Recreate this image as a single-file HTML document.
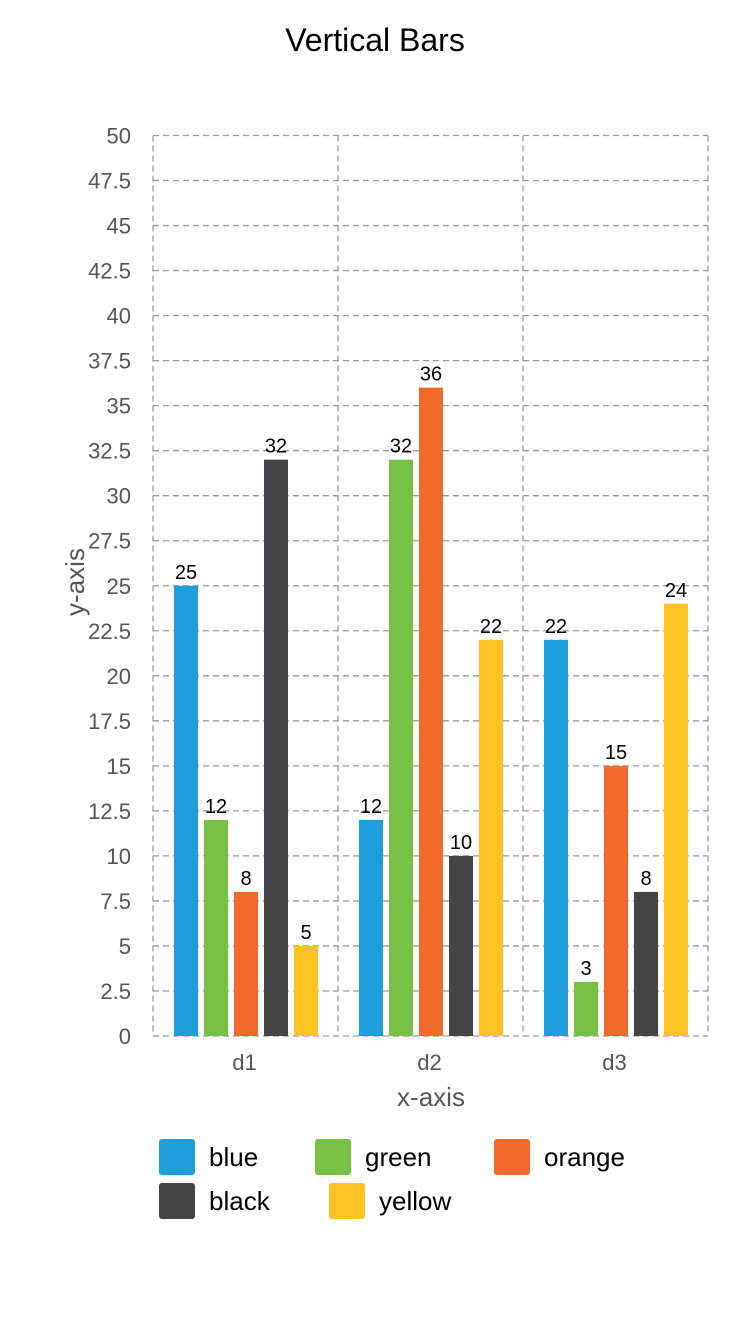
<!DOCTYPE html>
<html><head><meta charset="utf-8"><style>
body{margin:0;background:#fff;font-family:"Liberation Sans",Arial,sans-serif;}
</style></head><body>
<svg width="750" height="1334" xmlns="http://www.w3.org/2000/svg" id="chart">
<text x="375" y="51" text-anchor="middle" font-size="32" fill="#000">Vertical Bars</text>
<g id="grid"></g><g id="bars"></g>
<text x="431" y="1106" text-anchor="middle" font-size="26" fill="#555">x-axis</text>
<text transform="translate(84,582) rotate(-90)" text-anchor="middle" font-size="26" fill="#555">y-axis</text>
<g id="legend"></g>
</svg>
<script>
const categories=["d1","d2","d3"];
const seriesNames=["blue","green","orange","black","yellow"];
const seriesColors=["#1e9fdb","#78c043","#f26a2a","#444446","#fdc325"];
const blueVals=[25,12,22];
const greenVals=[12,32,3];
const orangeVals=[8,36,15];
const blackVals=[32,10,8];
const yellowVals=[5,22,24];
const yTicks=[0,2.5,5,7.5,10,12.5,15,17.5,20,22.5,25,27.5,30,32.5,35,37.5,40,42.5,45,47.5,50];
const allVals=[blueVals,greenVals,orangeVals,blackVals,yellowVals];
const NS="http://www.w3.org/2000/svg";
const L=153,B=1036,T=135.5,CW=185,yMax=50;
const y=v=>B-(v/yMax)*(B-T);
const xc=i=>L+i*CW;
function mk(tag,at,parent){const e=document.createElementNS(NS,tag);for(const k in at)e.setAttribute(k,at[k]);parent.appendChild(e);return e;}
const grid=document.getElementById('grid');
yTicks.forEach(t=>{
 const ln=mk('line',{x1:L,x2:L+CW*categories.length,y1:y(t),y2:y(t),stroke:'#999','stroke-width':1.3,'stroke-dasharray':'6,4'},grid);
 
 
 const tx=mk('text',{x:131,y:y(t)+8,'text-anchor':'end','font-size':22,fill:'#555'},grid);
 tx.textContent=t;
 
 
});
for(let i=0;i<=categories.length;i++){
 const ln=mk('line',{x1:xc(i),x2:xc(i),y1:T,y2:B,stroke:'#999','stroke-width':1.3,'stroke-dasharray':'6,4'},grid);
 
 
}
const bars=document.getElementById('bars');
categories.forEach((c,i)=>{
 const tx=mk('text',{x:xc(i)+CW/2-1,y:1070,'text-anchor':'middle','font-size':22,fill:'#555'},bars);
 tx.textContent=c;
 
 
 allVals.forEach((vals,s)=>{
  const bx=xc(i)+21+s*30, v=vals[i];
  const r=mk('rect',{x:bx,y:y(v),width:24,height:B-y(v),fill:seriesColors[s]},bars);
  
  
  const lb=mk('text',{x:bx+12,y:y(v)-7,'text-anchor':'middle','font-size':20,fill:'#000'},bars);
  lb.textContent=v;
  
  
 });
});
const legend=document.getElementById('legend');
const lpos=[[159,1139],[315,1139],[494,1139],[159,1183],[329,1183]];
seriesNames.forEach((n,s)=>{
 const g=mk('g',{},legend);
 
 
 mk('rect',{x:lpos[s][0],y:lpos[s][1],width:36,height:36,rx:3,fill:seriesColors[s]},g);
 const t=mk('text',{x:lpos[s][0]+50,y:lpos[s][1]+27,'font-size':26,fill:'#000'},g);
 t.textContent=n;
});
</script>
</body></html>
